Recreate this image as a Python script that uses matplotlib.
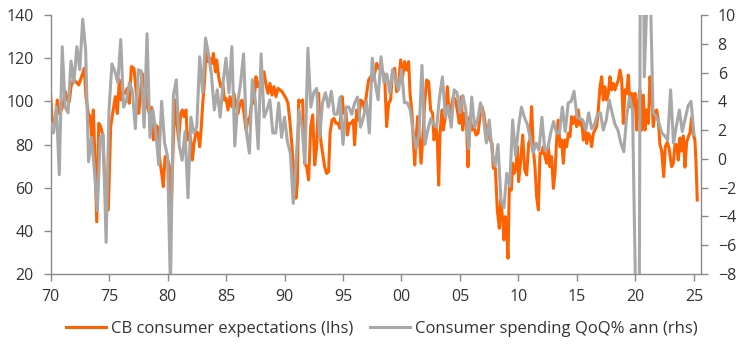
import numpy as np
import matplotlib
matplotlib.use("Agg")
import matplotlib.pyplot as plt

# ---------------- DATA ---------------- #

# CB consumer expectations index (lhs)
orange_years = [
    1970.01, 1970.13, 1970.30, 1970.47, 1970.58, 1970.75, 1970.93, 1971.10, 1971.27, 1971.44,
    1971.61, 1971.75, 1971.95, 1972.18, 1972.41, 1972.61, 1972.89, 1973.03, 1973.23, 1973.38,
    1973.52, 1973.66, 1973.77, 1973.95, 1974.12, 1974.29, 1974.46, 1974.66, 1974.94, 1975.14,
    1975.31, 1975.54, 1975.71, 1975.88, 1976.05, 1976.22, 1976.39, 1976.56, 1976.73, 1976.91,
    1977.13, 1977.31, 1977.54, 1977.65, 1977.82, 1977.93, 1978.11, 1978.22, 1978.45, 1978.65,
    1978.79, 1978.96, 1979.13, 1979.30, 1979.50, 1979.64, 1979.79, 1979.99, 1980.16, 1980.30,
    1980.50, 1980.64, 1980.78, 1980.95, 1981.13, 1981.27, 1981.41, 1981.58, 1981.70, 1981.87,
    1981.98, 1982.12, 1982.27, 1982.44, 1982.61, 1982.75, 1982.89, 1983.01, 1983.15, 1983.29,
    1983.46, 1983.63, 1983.80, 1983.92, 1984.09, 1984.20, 1984.37, 1984.54, 1984.72, 1984.86,
    1985.00, 1985.17, 1985.34, 1985.51, 1985.68, 1985.85, 1986.03, 1986.20, 1986.37, 1986.54,
    1986.71, 1986.88, 1987.05, 1987.22, 1987.39, 1987.56, 1987.73, 1987.91, 1988.08, 1988.25,
    1988.42, 1988.59, 1988.76, 1988.93, 1989.10, 1989.27, 1989.44, 1989.62, 1989.79, 1989.96,
    1990.13, 1990.30, 1990.47, 1990.64, 1990.81, 1990.98, 1991.10, 1991.21, 1991.38, 1991.55,
    1991.72, 1991.89, 1992.06, 1992.24, 1992.41, 1992.58, 1992.75, 1992.92, 1993.09, 1993.26,
    1993.43, 1993.60, 1993.77, 1993.89, 1994.06, 1994.23, 1994.40, 1994.57, 1994.74, 1994.91,
    1995.08, 1995.26, 1995.37, 1995.54, 1995.71, 1995.88, 1995.99, 1996.17, 1996.34, 1996.51,
    1996.68, 1996.85, 1997.02, 1997.19, 1997.36, 1997.54, 1997.71, 1997.88, 1998.05, 1998.22,
    1998.39, 1998.56, 1998.73, 1998.90, 1999.07, 1999.24, 1999.42, 1999.59, 1999.76, 1999.93,
    2000.10, 2000.27, 2000.44, 2000.61, 2000.73, 2000.90, 2001.01, 2001.13, 2001.24, 2001.38,
    2001.52, 2001.67, 2001.81, 2001.98, 2002.15, 2002.32, 2002.49, 2002.66, 2002.78, 2002.95,
    2003.06, 2003.18, 2003.29, 2003.46, 2003.58, 2003.75, 2003.92, 2004.09, 2004.26, 2004.43,
    2004.60, 2004.77, 2004.94, 2005.11, 2005.23, 2005.40, 2005.57, 2005.68, 2005.85, 2006.03,
    2006.20, 2006.37, 2006.54, 2006.71, 2006.88, 2007.05, 2007.22, 2007.39, 2007.56, 2007.74,
    2007.85, 2008.02, 2008.19, 2008.36, 2008.48, 2008.65, 2008.76, 2008.88, 2008.99, 2009.10,
    2009.22, 2009.39, 2009.50, 2009.62, 2009.79, 2009.90, 2010.01, 2010.19, 2010.36, 2010.53,
    2010.70, 2010.87, 2010.98, 2011.12, 2011.27, 2011.41, 2011.55, 2011.70, 2011.84, 2011.98,
    2012.12, 2012.26, 2012.41, 2012.55, 2012.69, 2012.83, 2012.98, 2013.12, 2013.26, 2013.40,
    2013.55, 2013.69, 2013.83, 2013.97, 2014.12, 2014.26, 2014.40, 2014.54, 2014.69, 2014.83,
    2014.97, 2015.11, 2015.26, 2015.40, 2015.54, 2015.68, 2015.83, 2015.97, 2016.11, 2016.25,
    2016.40, 2016.54, 2016.68, 2016.82, 2016.97, 2017.11, 2017.25, 2017.39, 2017.54, 2017.68,
    2017.82, 2017.96, 2018.11, 2018.25, 2018.39, 2018.53, 2018.68, 2018.82, 2018.96, 2019.10,
    2019.24, 2019.39, 2019.53, 2019.67, 2019.81, 2019.96, 2020.10, 2020.24, 2020.38, 2020.53,
    2020.67, 2020.81, 2020.95, 2021.10, 2021.24, 2021.38, 2021.52, 2021.67, 2021.81, 2021.95,
    2022.09, 2022.24, 2022.41, 2022.55, 2022.72, 2022.88, 2023.09, 2023.23, 2023.38, 2023.52,
    2023.66, 2023.80, 2023.95, 2024.09, 2024.23, 2024.37, 2024.52, 2024.66, 2024.80, 2024.94,
    2025.08, 2025.17, 2025.28,
]
orange_vals = [
    102.9, 92.1, 89.8, 93.7, 100.6, 94.4, 96.0, 99.1, 104.5, 100.6,
    99.8, 106.8, 109.9, 109.1, 107.6, 110.7, 115.3, 102.2, 94.4, 92.9,
    83.6, 96.0, 77.5, 44.2, 89.8, 88.3, 84.4, 60.5, 49.7, 88.3,
    94.4, 102.2, 94.4, 109.9, 100.6, 104.5, 103.7, 106.0, 99.1, 116.1,
    115.3, 105.3, 94.4, 100.6, 113.0, 106.8, 108.3, 98.3, 94.4, 97.2,
    82.1, 89.0, 88.3, 74.4, 66.6, 60.5, 74.4, 73.6, 69.7, 48.1,
    82.1, 100.6, 91.3, 82.1, 94.4, 96.0, 92.9, 96.0, 82.1, 85.2,
    82.1, 72.8, 80.5, 86.0, 85.2, 79.0, 88.3, 99.1, 108.3, 123.0,
    118.4, 119.9, 117.6, 122.2, 113.7, 119.2, 111.4, 106.8, 108.3, 100.6,
    101.4, 96.0, 102.2, 97.5, 103.7, 98.3, 94.4, 99.1, 100.6, 94.4,
    86.7, 91.3, 92.9, 100.6, 99.1, 111.4, 106.8, 109.1, 109.9, 113.7,
    107.6, 103.7, 108.3, 102.9, 106.8, 102.2, 106.0, 105.3, 104.5, 102.9,
    101.4, 99.1, 90.0, 79.0, 66.6, 55.1, 62.0, 100.6, 99.8, 100.6,
    71.3, 69.7, 63.6, 88.3, 93.7, 70.5, 79.0, 103.7, 82.1, 75.9,
    69.7, 66.6, 67.4, 85.2, 91.3, 92.1, 89.8, 89.8, 87.5, 102.2,
    94.4, 95.2, 84.4, 89.8, 89.8, 91.3, 79.8, 96.0, 91.3, 100.6,
    99.8, 96.0, 103.7, 109.9, 111.4, 109.9, 113.0, 117.6, 115.3, 116.1,
    113.7, 111.4, 88.3, 99.1, 100.6, 114.5, 115.3, 104.5, 108.3, 119.2,
    111.4, 118.4, 114.5, 118.4, 103.7, 94.4, 82.1, 70.5, 82.1, 92.9,
    83.6, 71.3, 82.1, 99.1, 109.9, 109.1, 96.0, 94.4, 82.1, 88.3,
    82.1, 61.2, 85.2, 96.0, 86.7, 92.9, 106.8, 92.9, 97.5, 102.2,
    100.6, 96.0, 89.8, 102.2, 86.7, 94.4, 88.3, 69.7, 92.9, 86.7,
    88.3, 84.4, 85.2, 92.9, 97.5, 93.7, 86.7, 88.3, 82.1, 80.5,
    69.0, 69.0, 49.7, 41.2, 54.3, 45.0, 35.8, 46.6, 41.9, 27.3,
    60.5, 58.9, 71.3, 66.6, 69.7, 79.0, 62.8, 72.8, 84.4, 68.2,
    65.9, 80.5, 82.1, 97.5, 77.5, 69.7, 55.8, 49.7, 75.9, 75.9,
    79.0, 74.4, 71.3, 79.0, 69.7, 74.4, 59.7, 66.6, 82.1, 91.3,
    79.0, 82.1, 71.3, 82.1, 79.0, 85.2, 83.6, 92.9, 89.8, 92.9,
    88.3, 96.0, 89.0, 91.3, 82.1, 87.5, 80.5, 85.2, 83.6, 79.0,
    85.2, 86.7, 88.3, 96.0, 106.8, 111.4, 100.6, 106.8, 100.6, 103.7,
    111.4, 105.3, 108.3, 105.3, 107.6, 109.9, 114.5, 109.9, 89.8, 105.3,
    103.7, 112.2, 97.5, 103.7, 97.5, 103.7, 86.7, 99.1, 105.3, 86.7,
    102.9, 86.7, 96.0, 89.8, 111.4, 103.7, 88.3, 95.2, 96.0, 91.3,
    80.0, 77.0, 65.1, 79.0, 81.0, 78.0, 69.7, 71.3, 80.0, 80.0,
    72.8, 83.0, 77.0, 84.0, 69.5, 81.0, 83.6, 85.5, 92.5, 85.2,
    82.0, 72.0, 54.3,
]

# Consumer spending QoQ% annualised (rhs), quarterly from 1970Q1
grey_70s = [2.5, 1.8, 3.6, -1.1, 7.8, 3.6, 3.2, 6.8, 5.3, 7.8, 6.2, 9.7, 7.6, -0.2,
            1.5, -0.8, -3.6, 1.5, 1.7, -5.8, 3.4, 6.6, 6.1, 5.3, 8.3, 3.6, 4.1, 5.3,
            4.7, 2.1, 6.2, 6.1, 2.2, 8.7, 1.5, 3.4, 1.8, -0.4, 4.0, 1.1, 0.2, -9.0]
grey_80s = [4.4, 5.5, 0.9, -0.1, 1.9, -2.7, 2.9, 1.8, 2.2, 7.1, 4.6, 8.4, 7.3, 5.9,
            3.4, 4.8, 2.9, 5.3, 7.0, 4.6, 7.8, 0.9, 3.9, 5.3, 7.3, 1.8, 0.4, 5.5,
            4.1, 0.7, 7.3, 2.9, 3.4, 4.1, 1.8, 1.8, 3.9, 1.5, 2.9, 1.2, 0.4]
grey_90s = [-3.1, -0.1, 3.4, 2.2, -0.3, 7.7, 3.6, 4.6, 4.9, 1.5, 3.9, 4.6, 3.6, 4.7,
            3.1, 3.1, 4.3, 1.0, 3.6, 3.6, 3.1, 3.9, 4.3, 2.2, 2.9, 4.0, 1.8, 7.0,
            5.3, 4.1, 7.1, 5.3, 5.9, 4.6, 6.2, 5.5, 4.8, 6.2, 3.9, 3.9, 3.4]
grey_00s = [1.8, 0.7, 1.8, 6.5, 1.0, 2.0, 2.8, 2.4, 2.2, 4.3, 5.7, 2.9, 3.7, 2.2,
            4.8, 4.6, 3.2, 4.4, 3.4, 0.7, 4.3, 2.2, 2.7, 3.9, 2.9, 1.1, 2.7, 0.4,
            -0.5, 1.0, -2.9, -3.4, -1.0, -1.9, 2.7, 0.2, 2.2]
grey_10s = [3.6, 2.9, 2.4, 1.5, 0.4, 1.1, 0.6, 2.9, 0.6, 0.7, 1.8, 2.6, 1.8, 1.8,
            3.6, 1.9, 3.9, 4.0, 4.7, 2.9, 2.8, 2.7, 2.0, 3.2, 2.1, 2.4, 3.1, 3.2,
            2.0, 2.7, 4.1, 3.2, 2.4, 2.0, 1.1, 0.5, 3.0, 4.3, 3.4, -9.0]
grey_20s = [-33.0, 41.0, 5.7, 11.5, 12.5, 3.2, 3.0, 2.5, 1.8, 1.6, 1.3, 4.8, 1.1,
            2.3, 3.4, 1.9, 2.8, 3.7, 4.0, 1.7]

grey_vals = grey_70s + grey_80s + grey_90s + grey_00s + grey_10s + grey_20s
grey_years = 1970 + 0.25 * np.arange(len(grey_vals))

x_ticks = list(range(1970, 2026, 5))
x_labels = ["70", "75", "80", "85", "90", "95", "00", "05", "10", "15", "20", "25"]

ORANGE = "#FF6200"
GREY = "#A8A8A8"
AXIS = "#8A8A8A"
TEXT = "#333333"

plt.rcParams["font.family"] = ["Open Sans", "DejaVu Sans"]

# ---------------- PLOT ---------------- #

fig = plt.figure(figsize=(7.44, 3.48), dpi=100)
ax = fig.add_axes([0.0679, 0.2126, 0.8743, 0.7443])
ax2 = ax.twinx()

l1, = ax.plot(orange_years, orange_vals, color=ORANGE, lw=2.2,
              label="CB consumer expectations (lhs)")
l2, = ax2.plot(grey_years, grey_vals, color=GREY, lw=2.2,
               label="Consumer spending QoQ% ann (rhs)")

ax.set_xlim(1970, 2025.6)
ax.set_ylim(20, 140)
ax.set_yticks(range(20, 141, 20))
ax2.set_ylim(-8, 10)
ax2.set_yticks(range(-8, 11, 2))
ax.set_xticks(x_ticks)
ax.set_xticklabels(x_labels)

for a in (ax, ax2):
    a.spines["top"].set_visible(False)
    for s in ("left", "right", "bottom"):
        a.spines[s].set_color(AXIS)
        a.spines[s].set_linewidth(1)
    a.tick_params(colors=AXIS, labelcolor=TEXT, length=5, width=1, labelsize=11.5)
ax.spines["right"].set_visible(False)
ax2.spines["left"].set_visible(False)
ax2.spines["bottom"].set_visible(False)
ax.tick_params(axis="y", pad=7)
ax.tick_params(axis="x", pad=6)
ax2.tick_params(axis="y", pad=7)

fig.legend([l1, l2], [l1.get_label(), l2.get_label()], loc="center",
           bbox_to_anchor=(0.513, 0.055), ncol=2, frameon=False,
           handlelength=2.4, handletextpad=0.3, columnspacing=1.0,
           fontsize=12, labelcolor=TEXT)

plt.savefig("out.png", dpi=100)
plt.close()
